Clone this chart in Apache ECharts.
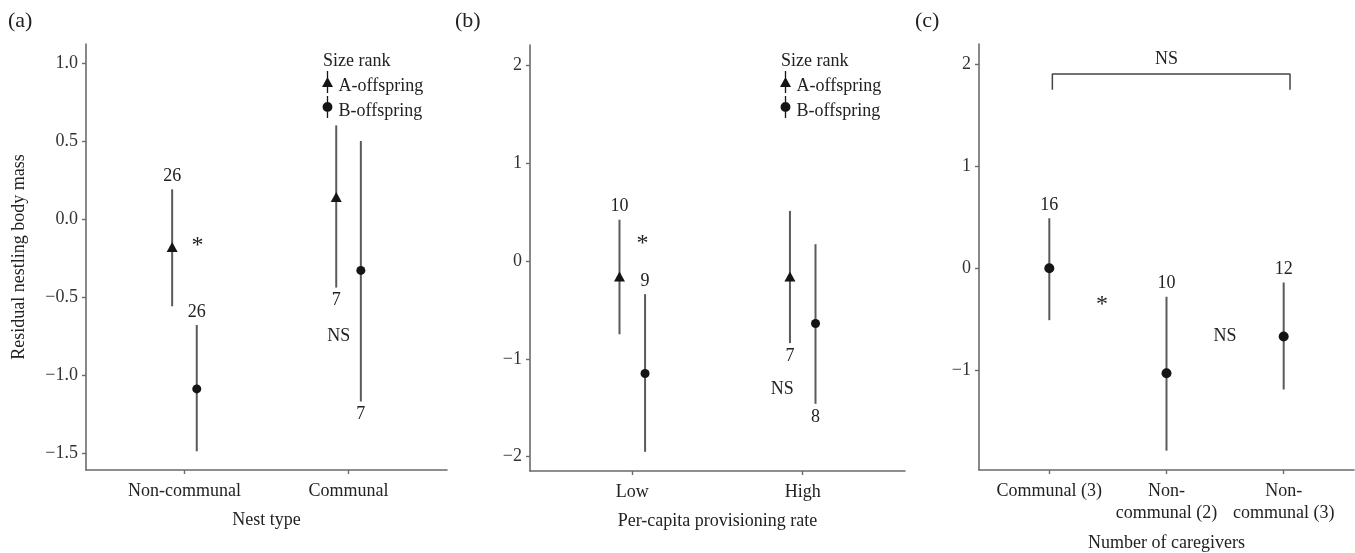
<!DOCTYPE html>
<html>
<head>
<meta charset="utf-8">
<script src="https://cdn.jsdelivr.net/npm/echarts@6/dist/echarts.min.js"></script>
<style>
html,body{margin:0;padding:0;background:#fff;}
#chart{width:1355px;height:553px;}
</style>
</head>
<body>
<div id="chart"></div>
<script>
// ---------- Data ----------
// Panel (a): Nest type
const nestTypes = ['Non-communal', 'Communal'];
const nestA_mean = [-0.18, 0.14];
const nestA_lo   = [-0.56, -0.44];
const nestA_hi   = [0.19, 0.60];
const nestA_n    = [26, 7];
const nestA_side = ['top', 'bottom'];
const nestB_mean = [-1.09, -0.33];
const nestB_lo   = [-1.49, -1.17];
const nestB_hi   = [-0.68, 0.50];
const nestB_n    = [26, 7];
const nestB_side = ['top', 'bottom'];
const nestSigText = ['*', 'NS'];
const nestSigX    = [1.08, 1.94];
const nestSigY    = [-0.17, -0.75];
const nestTicks   = [-1.5, -1.0, -0.5, 0.0, 0.5, 1.0];

// Panel (b): Per-capita provisioning rate
const provRates = ['Low', 'High'];
const provA_mean = [-0.16, -0.16];
const provA_lo   = [-0.75, -0.84];
const provA_hi   = [0.42, 0.51];
const provA_n    = [10, 7];
const provA_side = ['top', 'bottom'];
const provB_mean = [-1.15, -0.64];
const provB_lo   = [-1.95, -1.46];
const provB_hi   = [-0.34, 0.17];
const provB_n    = [9, 8];
const provB_side = ['top', 'bottom'];
const provSigText = ['*', 'NS'];
const provSigX    = [1.06, 1.88];
const provSigY    = [0.17, -1.31];
const provTicks   = [-2, -1, 0, 1, 2];

// Panel (c): Number of caregivers
const careCats = ['Communal (3)', 'Non-\ncommunal (2)', 'Non-\ncommunal (3)'];
const care_mean = [0.00, -1.03, -0.67];
const care_lo   = [-0.51, -1.79, -1.19];
const care_hi   = [0.49, -0.28, -0.14];
const care_n    = [16, 10, 12];
const careSigText = ['*', 'NS', 'NS'];
const careSigX    = [1.45, 2.50, 2.00];
const careSigY    = [-0.36, -0.67, 2.05];
const careBracketX = [1.026, 1.026, 3.054, 3.054];
const careBracketY = [1.75, 1.905, 1.905, 1.75];
const careTicks   = [-1, 0, 1, 2];

// ---------- Styling ----------
const FONT = 'Liberation Serif';
const TXT = '#222';
const AXC = '#6b6b6b';
const BARC = '#5a5a5a';
const PTC = '#151515';
const dodge = 0.075;

const chart = echarts.init(document.getElementById('chart'), null, {renderer: 'canvas'});

function fmtNum(d) {
  return function (v) {
    const s = Math.abs(v).toFixed(d);
    return (v < -1e-9 ? '\u2212' : '') + s;
  };
}

function xAxisDef(gi, cats, maxV, nameText, gap) {
  const pos = cats.map((c, i) => i + 1);
  return {
    type: 'value', gridIndex: gi, min: 0.4, max: maxV,
    name: nameText, nameLocation: 'middle', nameGap: gap,
    nameTextStyle: {fontFamily: FONT, fontSize: 18, color: TXT},
    axisLine: {show: true, onZero: false, lineStyle: {color: AXC, width: 1.6}},
    axisTick: {show: true, length: 4, lineStyle: {color: AXC, width: 1.4}, customValues: pos},
    axisLabel: {
      show: true, margin: 10, customValues: pos,
      fontFamily: FONT, fontSize: 18, color: TXT, lineHeight: 22,
      formatter: function (v) { const i = Math.round(v) - 1; return cats[i] || ''; }
    },
    splitLine: {show: false}
  };
}

function yAxisDef(gi, minV, maxV, ticks, digits, nameText) {
  return {
    type: 'value', gridIndex: gi, min: minV, max: maxV,
    name: nameText || '', nameLocation: 'middle', nameGap: 58,
    nameTextStyle: {fontFamily: FONT, fontSize: 18, color: TXT},
    axisLine: {show: true, onZero: false, lineStyle: {color: AXC, width: 1.6}},
    axisTick: {show: true, length: 4, lineStyle: {color: AXC, width: 1.4}, customValues: ticks},
    axisLabel: {show: true, margin: 8, customValues: ticks, fontFamily: FONT, fontSize: 18, color: '#333', formatter: fmtNum(digits)},
    splitLine: {show: false}
  };
}

function barSeries(gi, name, xs, lo, hi) {
  return {
    type: 'custom', name: name, xAxisIndex: gi, yAxisIndex: gi, z: 2, silent: true,
    itemStyle: {color: PTC},
    data: xs.map((x, i) => [x, lo[i], hi[i]]),
    encode: {x: 0, y: [1, 2]},
    renderItem: function (params, api) {
      const x = api.value(0);
      const p1 = api.coord([x, api.value(1)]);
      const p2 = api.coord([x, api.value(2)]);
      return {type: 'line', shape: {x1: p1[0], y1: p1[1], x2: p2[0], y2: p2[1]},
              style: {stroke: BARC, lineWidth: 2}};
    }
  };
}

function pointSeries(gi, name, xs, means, symbol, size) {
  return {
    type: 'scatter', name: name, xAxisIndex: gi, yAxisIndex: gi, z: 5, silent: true,
    symbol: symbol, symbolSize: size,
    itemStyle: {color: PTC, opacity: 1},
    data: xs.map((x, i) => [x, means[i]])
  };
}

function labelSeries(gi, xs, lo, hi, texts, sides) {
  return {
    type: 'custom', xAxisIndex: gi, yAxisIndex: gi, z: 6, silent: true,
    data: xs.map((x, i) => [x, sides[i] === 'top' ? hi[i] : lo[i]]),
    renderItem: function (params, api) {
      const i = params.dataIndex;
      const p = api.coord([api.value(0), api.value(1)]);
      const off = sides[i] === 'top' ? -13 : 13;
      return {type: 'text', x: p[0], y: p[1] + off,
              style: {text: String(texts[i]), fontFamily: FONT, fontSize: 18, fill: TXT,
                      align: 'center', verticalAlign: 'middle'}};
    }
  };
}

function sigSeries(gi, xs, ys, texts) {
  return {
    type: 'custom', xAxisIndex: gi, yAxisIndex: gi, z: 6, silent: true,
    data: xs.map((x, i) => [x, ys[i]]),
    renderItem: function (params, api) {
      const i = params.dataIndex;
      const p = api.coord([api.value(0), api.value(1)]);
      const isStar = texts[i] === '*';
      return {type: 'text', x: p[0], y: p[1],
              style: {text: texts[i], fontFamily: FONT, fontSize: isStar ? 24 : 18, fill: TXT,
                      align: 'center', verticalAlign: 'middle'}};
    }
  };
}

const xa = nestTypes.map((c, i) => i + 1 - dodge);
const xb = nestTypes.map((c, i) => i + 1 + dodge);
const pa = provRates.map((c, i) => i + 1 - dodge);
const pb = provRates.map((c, i) => i + 1 + dodge);
const cx = careCats.map((c, i) => i + 1);

const triPath = 'path://M4.4,0 H5.6 V20 H4.4 Z M0,14.5 L5,5.5 L10,14.5 Z';
const cirPath = 'path://M4.4,0 H5.6 V20 H4.4 Z M0.5,10 A4.5,4.5 0 1,1 9.5,10 A4.5,4.5 0 1,1 0.5,10 Z';

function legendDef(left) {
  return {
    left: left, top: 71, orient: 'vertical', itemWidth: 12, itemHeight: 22, itemGap: 1,
    padding: 0, selectedMode: false,
    data: [
      {name: 'A-offspring', icon: triPath, itemStyle: {color: PTC}},
      {name: 'B-offspring', icon: cirPath, itemStyle: {color: PTC}}
    ],
    formatter: '{t|{name}}',
    textStyle: {
      fontFamily: FONT, fontSize: 18, color: TXT,
      rich: {t: {fontFamily: FONT, fontSize: 18, color: TXT, padding: [8, 0, 0, 0]}}
    }
  };
}

const option = {
  backgroundColor: '#fff',
  animation: false,
  grid: [
    {left: 86, top: 44, width: 361, height: 426, outerBoundsMode: 'none'},
    {left: 530, top: 45, width: 375, height: 426, outerBoundsMode: 'none'},
    {left: 979, top: 44, width: 375, height: 426, outerBoundsMode: 'none'}
  ],
  legend: [legendDef(322), legendDef(780)],
  xAxis: [
    xAxisDef(0, nestTypes, 2.6, 'Nest type', 41),
    xAxisDef(1, provRates, 2.6, 'Per-capita provisioning rate', 41),
    xAxisDef(2, careCats, 3.6, 'Number of caregivers', 64)
  ],
  yAxis: [
    yAxisDef(0, -1.61, 1.122, nestTicks, 1, 'Residual nestling body mass'),
    yAxisDef(1, -2.146, 2.204, provTicks, 0),
    yAxisDef(2, -1.98, 2.2, careTicks, 0)
  ],
  graphic: [
    {type: 'text', left: 8, top: 10, style: {text: '(a)', fontFamily: FONT, fontSize: 22, fill: TXT}},
    {type: 'text', left: 455, top: 10, style: {text: '(b)', fontFamily: FONT, fontSize: 22, fill: TXT}},
    {type: 'text', left: 915, top: 10, style: {text: '(c)', fontFamily: FONT, fontSize: 22, fill: TXT}},
    {type: 'text', left: 323, top: 52, style: {text: 'Size rank', fontFamily: FONT, fontSize: 18, fill: TXT}},
    {type: 'text', left: 781, top: 52, style: {text: 'Size rank', fontFamily: FONT, fontSize: 18, fill: TXT}}
  ],
  series: [
    barSeries(0, 'A-offspring', xa, nestA_lo, nestA_hi),
    barSeries(0, 'B-offspring', xb, nestB_lo, nestB_hi),
    pointSeries(0, 'A-offspring', xa, nestA_mean, 'triangle', [11, 10]),
    pointSeries(0, 'B-offspring', xb, nestB_mean, 'circle', 9),
    labelSeries(0, xa, nestA_lo, nestA_hi, nestA_n, nestA_side),
    labelSeries(0, xb, nestB_lo, nestB_hi, nestB_n, nestB_side),
    sigSeries(0, nestSigX, nestSigY, nestSigText),

    barSeries(1, 'A-offspring', pa, provA_lo, provA_hi),
    barSeries(1, 'B-offspring', pb, provB_lo, provB_hi),
    pointSeries(1, 'A-offspring', pa, provA_mean, 'triangle', [11, 10]),
    pointSeries(1, 'B-offspring', pb, provB_mean, 'circle', 9),
    labelSeries(1, pa, provA_lo, provA_hi, provA_n, provA_side),
    labelSeries(1, pb, provB_lo, provB_hi, provB_n, provB_side),
    sigSeries(1, provSigX, provSigY, provSigText),

    barSeries(2, 'care', cx, care_lo, care_hi),
    pointSeries(2, 'care', cx, care_mean, 'circle', 10),
    labelSeries(2, cx, care_lo, care_hi, care_n, careCats.map(() => 'top')),
    sigSeries(2, careSigX, careSigY, careSigText),
    {
      type: 'line', xAxisIndex: 2, yAxisIndex: 2, z: 3, silent: true,
      symbol: 'none', lineStyle: {color: '#444', width: 1.5},
      data: careBracketX.map((x, i) => [x, careBracketY[i]])
    }
  ]
};
chart.setOption(option);
</script>
</body>
</html>
